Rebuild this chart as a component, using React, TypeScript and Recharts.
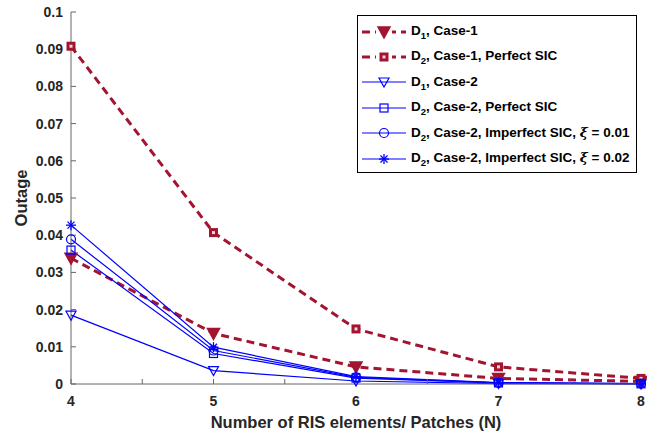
import { LineChart, Line, XAxis, YAxis, Legend } from "recharts";

const nValues = [4, 5, 6, 7, 8];
const d1Case1 = [0.0338, 0.0136, 0.0046, 0.0015, 0.0007];
const d2Case1Perfect = [0.0908, 0.0407, 0.0148, 0.0046, 0.0015];
const d1Case2 = [0.0185, 0.0036, 0.0008, 0.0001, 0.00002];
const d2Case2Perfect = [0.036, 0.0082, 0.0016, 0.0003, 0.00005];
const d2Case2Imp01 = [0.0389, 0.009, 0.0018, 0.0003, 0.00008];
const d2Case2Imp02 = [0.0427, 0.0099, 0.002, 0.0004, 0.0001];

const xTicks = [4, 4.5, 5, 5.5, 6, 6.5, 7, 7.5, 8];
const yTicks = [0, 0.01, 0.02, 0.03, 0.04, 0.05, 0.06, 0.07, 0.08, 0.09, 0.1];

const legendSubs = ["1", "2", "1", "2", "2", "2"];
const legendTexts = [
  ", Case-1",
  ", Case-1, Perfect SIC",
  ", Case-2",
  ", Case-2, Perfect SIC",
  ", Case-2, Imperfect SIC, ",
  ", Case-2, Imperfect SIC, ",
];
const legendXi = ["", "", "", "", "0.01", "0.02"];

const data = nValues.map((n, i) => ({
  n,
  d1c1: d1Case1[i],
  d2c1: d2Case1Perfect[i],
  d1c2: d1Case2[i],
  d2c2: d2Case2Perfect[i],
  imp1: d2Case2Imp01[i],
  imp2: d2Case2Imp02[i],
}));

const RED = "#A2142F";
const BLUE = "#0000FF";

type Shape = "tri" | "triOpen" | "sqThick" | "sq" | "circle" | "star";

const series: { key: string; color: string; dashed: boolean; shape: Shape }[] = [
  { key: "d1c1", color: RED, dashed: true, shape: "tri" },
  { key: "d2c1", color: RED, dashed: true, shape: "sqThick" },
  { key: "d1c2", color: BLUE, dashed: false, shape: "triOpen" },
  { key: "d2c2", color: BLUE, dashed: false, shape: "sq" },
  { key: "imp1", color: BLUE, dashed: false, shape: "circle" },
  { key: "imp2", color: BLUE, dashed: false, shape: "star" },
];

function Marker({ shape, cx, cy, color }: { shape: Shape; cx: number; cy: number; color: string }) {
  switch (shape) {
    case "tri":
      return (
        <polygon
          points={`${cx - 6},${cy - 5} ${cx + 6},${cy - 5} ${cx},${cy + 6}`}
          fill={color}
          stroke={color}
          strokeWidth={1.5}
        />
      );
    case "triOpen":
      return (
        <polygon
          points={`${cx - 5},${cy - 4} ${cx + 5},${cy - 4} ${cx},${cy + 5}`}
          fill="none"
          stroke={color}
          strokeWidth={1.2}
        />
      );
    case "sqThick":
      return <rect x={cx - 3} y={cy - 3} width={6} height={6} fill="#f0d6dc" stroke={color} strokeWidth={3} />;
    case "sq":
      return <rect x={cx - 4} y={cy - 4} width={8} height={8} fill="none" stroke={color} strokeWidth={1.2} />;
    case "circle":
      return <circle cx={cx} cy={cy} r={4.5} fill="none" stroke={color} strokeWidth={1.2} />;
    case "star":
      return (
        <g stroke={color} strokeWidth={1.3}>
          <line x1={cx - 5} y1={cy} x2={cx + 5} y2={cy} />
          <line x1={cx} y1={cy - 5} x2={cx} y2={cy + 5} />
          <line x1={cx - 3.5} y1={cy - 3.5} x2={cx + 3.5} y2={cy + 3.5} />
          <line x1={cx - 3.5} y1={cy + 3.5} x2={cx + 3.5} y2={cy - 3.5} />
        </g>
      );
  }
  return null;
}

function makeDot(shape: Shape, color: string) {
  return (props: any) => {
    const { cx, cy, index } = props;
    return (
      <g key={`${shape}-${index}`}>
        <Marker shape={shape} cx={cx} cy={cy} color={color} />
      </g>
    );
  };
}

function LegendBox() {
  return (
    <div
      style={{
        border: "1px solid #000",
        background: "#fff",
        boxSizing: "border-box",
        width: 280,
        height: 158,
        padding: "3px 0 0 4px",
        fontFamily: "'Liberation Sans', Arial, sans-serif",
        fontWeight: "bold",
        fontSize: 13.5,
        color: "#000",
      }}
    >
      {series.map((s, i) => (
        <div key={s.key} style={{ display: "flex", alignItems: "center", height: 25.4 }}>
          <svg width={46} height={16} style={{ marginRight: 3 }}>
            <line
              x1={0}
              y1={8}
              x2={44}
              y2={8}
              stroke={s.color}
              strokeWidth={s.dashed ? 3 : 1.2}
              strokeDasharray={s.dashed ? "8 5" : undefined}
            />
            {s.dashed && <rect x={14} y={2} width={16} height={12} fill="#fff" />}
            <Marker shape={s.shape} cx={22} cy={8} color={s.color} />
          </svg>
          <span style={{ whiteSpace: "nowrap" }}>
            D<sub style={{ fontSize: 9.5 }}>{legendSubs[i]}</sub>
            {legendTexts[i]}
            {legendXi[i] && (
              <>
                <i style={{ fontFamily: "'DejaVu Serif', serif" }}>ξ</i> = {legendXi[i]}
              </>
            )}
          </span>
        </div>
      ))}
    </div>
  );
}

const AXIS = "#666";
const tickStyle = { fill: "#262626", fontSize: 14, fontWeight: "bold" as const };

export default function App() {
  return (
    <div
      style={{
        position: "absolute",
        left: 0,
        top: 0,
        width: 647,
        height: 435,
        background: "#fff",
        fontFamily: "'Liberation Sans', Arial, sans-serif",
      }}
    >
      <LineChart width={647} height={435} data={data} margin={{ top: 12, right: 6, left: 0, bottom: 0 }}>
        <XAxis
          dataKey="n"
          type="number"
          domain={[4, 8]}
          ticks={xTicks}
          tickFormatter={(v: number) => (Number.isInteger(v) ? String(v) : "")}
          height={51}
          stroke={AXIS}
          tickSize={-5}
          tickMargin={17}
          tick={tickStyle}
          label={{
            value: "Number of RIS elements/ Patches (N)",
            position: "insideBottom",
            offset: 7,
            fill: "#262626",
            fontSize: 16.5,
            fontWeight: "bold",
          }}
        />
        <XAxis
          xAxisId="top"
          orientation="top"
          dataKey="n"
          type="number"
          domain={[4, 8]}
          ticks={xTicks}
          height={0}
          stroke={AXIS}
          tickSize={-5}
          tick={false}
        />
        <YAxis
          type="number"
          domain={[0, 0.1]}
          ticks={yTicks}
          tickFormatter={(v: number) => (v === 0 ? "0" : String(+v.toFixed(2)))}
          width={71}
          stroke={AXIS}
          tickSize={-5}
          tickMargin={13}
          tick={tickStyle}
          label={{
            value: "Outage",
            angle: -90,
            position: "center",
            dx: -14,
            fill: "#262626",
            fontSize: 16.5,
            fontWeight: "bold",
          }}
        />
        <YAxis
          yAxisId="right"
          orientation="right"
          type="number"
          domain={[0, 0.1]}
          ticks={yTicks}
          width={0}
          stroke={AXIS}
          tickSize={-5}
          tick={false}
        />
        {series.map((s) => (
          <Line
            key={s.key}
            type="linear"
            dataKey={s.key}
            stroke={s.color}
            strokeWidth={s.dashed ? 3 : 1.2}
            strokeDasharray={s.dashed ? "8 5" : undefined}
            dot={makeDot(s.shape, s.color)}
            activeDot={false}
            isAnimationActive={false}
          />
        ))}
        <Legend
          layout="horizontal"
          verticalAlign="middle"
          align="center"
          wrapperStyle={{ position: "absolute", left: 357, top: 15, width: 280, height: 158 }}
          content={() => <LegendBox />}
        />
      </LineChart>
    </div>
  );
}
